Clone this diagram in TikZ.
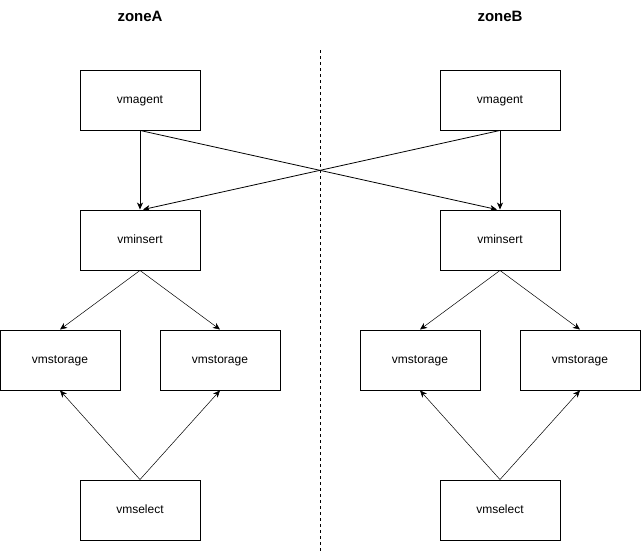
\documentclass[tikz,border=0pt]{standalone}
\usepackage{fontspec}
\setmainfont{Liberation Sans}
\usetikzlibrary{positioning,arrows.meta}
\tikzset{
    on grid,
    auto,
    block/.style = {
        draw,
        shape=rectangle,
        minimum height=60pt,
        minimum width=120pt,
        text height=8.5pt,
        text depth=2.5pt,
        line width=0.9pt,
        font=\fontsize{12}{14}\selectfont
    },
    zone/.style = {
        font=\fontsize{15}{18}\selectfont\bfseries
    },
    feed/.style = {
        ->,
        line width=0.8pt
    },
    link/.style = {
        ->,
        line width=0.5pt
    },
    >={Stealth[length=7pt,width=6pt,inset=2pt]},
}
\begin{document}
\begin{tikzpicture}[x=1pt,y=-1pt]
        \useasboundingbox (0,0) rectangle (641,552);

        \node[zone] (zoneA) at (140,16) {zoneA};
        \node[zone] (zoneB) at (500,16) {zoneB};

        %zone A
        \node[block] (agentA) at (140,100) {vmagent};
        \node[block, below=140pt of agentA] (insertA) {vminsert};
        \node[block, below left=120pt and 80pt of insertA] (storA1) {vmstorage};
        \node[block, below right=120pt and 80pt of insertA] (storA2) {vmstorage};
        \node[block, below=270pt of insertA] (selectA) {vmselect};

        %zone B
        \node[block, right=360pt of agentA] (agentB) {vmagent};
        \node[block, below=140pt of agentB] (insertB) {vminsert};
        \node[block, below left=120pt and 80pt of insertB] (storB1) {vmstorage};
        \node[block, below right=120pt and 80pt of insertB] (storB2) {vmstorage};
        \node[block, below=270pt of insertB] (selectB) {vmselect};

        %divider
        \coordinate (divTop) at (320,50);
        \coordinate (divBot) at (320,552);
        \draw[line width=0.6pt, dash pattern=on 3pt off 3pt] (divTop) -- (divBot);

        %connect
        \draw[feed] (agentA.south) -- (insertA.north);
        \draw[feed] (agentA.south) -- ([xshift=-3pt]insertB.north);
        \draw[feed] (agentB.south) -- (insertB.north);
        \draw[feed] (agentB.south) -- ([xshift=3pt]insertA.north);

        \draw[link] (insertA.south) -- (storA1.north);
        \draw[link] (insertA.south) -- (storA2.north);
        \draw[link] (selectA.north) -- (storA1.south);
        \draw[link] (selectA.north) -- (storA2.south);

        \draw[link] (insertB.south) -- (storB1.north);
        \draw[link] (insertB.south) -- (storB2.north);
        \draw[link] (selectB.north) -- (storB1.south);
        \draw[link] (selectB.north) -- (storB2.south);

    \end{tikzpicture}
\end{document}
